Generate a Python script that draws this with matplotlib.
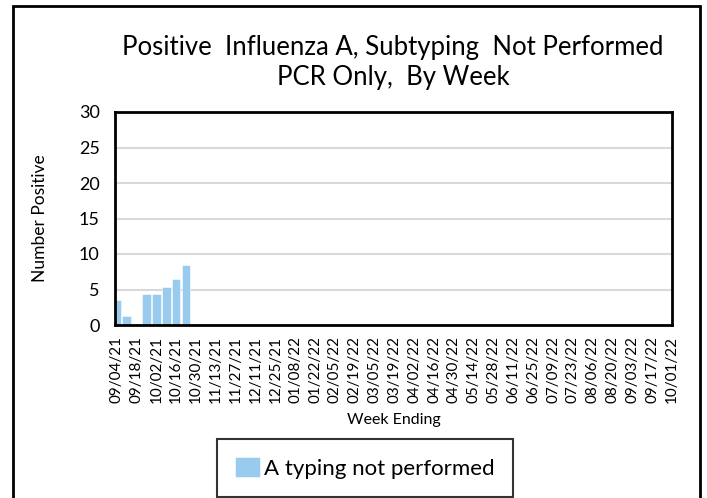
import matplotlib.pyplot as plt
import pandas as pd
from matplotlib.patches import Rectangle

# week-ending dates (weekly, labelled every other week)
weeks = pd.date_range("2021-09-04", "2022-10-01", freq="7D").strftime("%m/%d/%y").tolist()
# number positive, only the first weeks have data
counts = [3.5, 1.3, 0, 4.3, 4.3, 5.4, 6.5, 8.5]
series_name = "A typing not performed"

plt.rcParams['font.family'] = ['Lato', 'DejaVu Sans']

fig = plt.figure(figsize=(7.07, 4.98), dpi=100)
ax = fig.add_axes([115 / 707, 1 - 325 / 498, (672 - 115) / 707, (325 - 112) / 498])

bars = ax.bar(range(len(counts)), counts, width=0.86, color="#99cbef",
              edgecolor="white", linewidth=0.4, label=series_name, zorder=2)

ax.set_xlim(-0.17, len(weeks) - 1)
ax.set_ylim(0, 30)
ax.set_yticks(range(0, 31, 5))
ax.yaxis.grid(True, color="#d9d9d9", linewidth=1.5, zorder=0)
ax.set_axisbelow(True)

ax.set_xticks(range(0, len(weeks), 2))
ax.set_xticklabels(weeks[::2], rotation=90, fontsize=11)
ax.tick_params(axis="x", length=0, pad=8)
ax.tick_params(axis="y", length=0, labelsize=13, pad=11)

for s in ax.spines.values():
    s.set_linewidth(2)
    s.set_color("black")

ax.set_ylabel("Number Positive", fontsize=12.5, labelpad=22)
ax.set_xlabel("Week Ending", fontsize=11.5, labelpad=7)

fig.text(393 / 707, 1 - 48 / 498, "Positive  Influenza A, Subtyping  Not Performed",
         ha="center", va="center", fontsize=18.5)
fig.text(393 / 707, 1 - 78 / 498, "PCR Only,  By Week",
         ha="center", va="center", fontsize=18.5)

leg = fig.legend(handles=[bars], loc="center", bbox_to_anchor=(365 / 707, 1 - 468 / 498),
                 fontsize=16, frameon=True, fancybox=False, edgecolor="black",
                 handlelength=1.1, handleheight=1.0, handletextpad=0.2, borderpad=0.8)
leg.get_frame().set_linewidth(1.5)

# outer chart border
fig.patches.append(Rectangle((12.5 / 707, -0.05), (700 - 12.5) / 707, 1.05 - 6.5 / 498,
                             transform=fig.transFigure, fill=False,
                             edgecolor="black", linewidth=2))

fig.savefig("out.png", dpi=100)
